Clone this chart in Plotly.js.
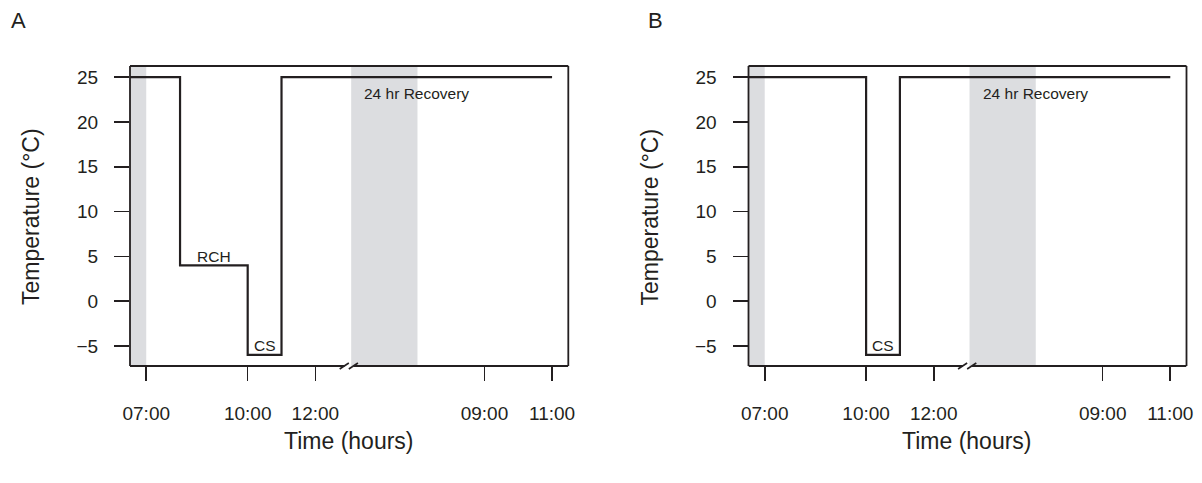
<!DOCTYPE html>
<html><head><meta charset="utf-8">
<script src="https://cdn.plot.ly/plotly-3.0.1.min.js"></script>
<style>html,body{margin:0;padding:0;background:#fff}</style>
</head><body><div id="chart" style="width:1202px;height:483px"></div>
<script>
// Time axis in "plot hours": day-1 clock hours as is; day-2 clock hours minus 16 (axis break after 12:00)
const tickHours = [7, 10, 12, 17, 19];
const tickLabels = ["07:00", "10:00", "12:00", "09:00", "11:00"];
const tempTicks = [-5, 0, 5, 10, 15, 20, 25];

// Panel A: RCH (4 °C) then cold shock (-6 °C), then 24 hr recovery at 25 °C
const timeA = [6.5, 8, 10, 11, 19];
const tempA = [25, 4, -6, 25, 25];
// Panel B: cold shock only
const timeB = [6.5, 10, 11, 19];
const tempB = [25, -6, 25, 25];

// grey (dark) periods
const darkStart = [6.52, 13.06];
const darkEnd = [7.0, 15.02];

// text labels
const labelTextA = ["RCH", "CS", "24 hr Recovery"];
const labelXA = [9, 10.5, 15];
const labelYA = [5, -5, 23.2];
const labelTextB = ["CS", "24 hr Recovery"];
const labelXB = [10.5, 15];
const labelYB = [-5, 23.2];

const W = 1202, H = 483;
const xRange = [6.52, 19.48];
const yRange = [-7.24, 26.24];
const domA = [130 / W, 568.3 / W];
const domB = [748.5 / W, 1186.5 / W];
const yDom = [(H - 366) / H, (H - 66) / H];
const ink = '#231f20';
const font = 'Liberation Sans, Arial, Helvetica, sans-serif';

function xAxis(dom, anchor) {
  return {
    domain: dom, range: xRange, anchor: anchor, showgrid: false, zeroline: false, showline: false,
    tickmode: 'array', tickvals: tickHours, ticktext: tickLabels,
    ticks: 'outside', ticklen: 14, tickwidth: 1.6, tickcolor: ink,
    ticklabelstandoff: 16, tickfont: {family: font, size: 19, color: ink}, fixedrange: true
  };
}
function yAxis(anchor) {
  return {
    domain: yDom, range: yRange, anchor: anchor, showgrid: false, zeroline: false, showline: false,
    tickmode: 'array', tickvals: tempTicks,
    ticks: 'outside', ticklen: 15, tickwidth: 1.6, tickcolor: ink,
    ticklabelstandoff: 12, tickfont: {family: font, size: 19, color: ink}, fixedrange: true
  };
}

const traces = [
  {x: timeA, y: tempA, xaxis: 'x', yaxis: 'y', mode: 'lines', line: {shape: 'hv', color: ink, width: 2.2}, hoverinfo: 'skip'},
  {x: timeB, y: tempB, xaxis: 'x2', yaxis: 'y2', mode: 'lines', line: {shape: 'hv', color: ink, width: 2.2}, hoverinfo: 'skip'}
];

const shapes = [];
[['x', domA], ['x2', domB]].forEach(([xr, dom]) => {
  for (let i = 0; i < darkStart.length; i++) {
    shapes.push({type: 'rect', layer: 'below', xref: xr, yref: 'paper', x0: darkStart[i], x1: darkEnd[i],
      y0: yDom[0], y1: yDom[1], fillcolor: '#dcdde0', line: {width: 0}});
  }
  const lw = 1.8;
  // left, top, right of the box
  shapes.push({type: 'line', xref: 'paper', yref: 'paper', x0: dom[0], x1: dom[0], y0: yDom[0], y1: yDom[1], line: {color: ink, width: lw}});
  shapes.push({type: 'line', xref: 'paper', yref: 'paper', x0: dom[1], x1: dom[1], y0: yDom[0], y1: yDom[1], line: {color: ink, width: lw}});
  shapes.push({type: 'line', xref: 'paper', yref: 'paper', x0: dom[0], x1: dom[1], y0: yDom[1], y1: yDom[1], line: {color: ink, width: lw}});
  // bottom with a break
  shapes.push({type: 'line', xref: xr, yref: 'paper', x0: xRange[0], x1: 12.86, y0: yDom[0], y1: yDom[0], line: {color: ink, width: lw}});
  shapes.push({type: 'line', xref: xr, yref: 'paper', x0: 13.13, x1: xRange[1], y0: yDom[0], y1: yDom[0], line: {color: ink, width: lw}});
  const ya = 1 - 369 / H, yb = 1 - 363 / H;
  shapes.push({type: 'line', xref: xr, yref: 'paper', x0: 12.72, x1: 12.99, y0: ya, y1: yb, line: {color: ink, width: 1.6}});
  shapes.push({type: 'line', xref: xr, yref: 'paper', x0: 12.99, x1: 13.26, y0: ya, y1: yb, line: {color: ink, width: 1.6}});
});

const annotations = [];
labelTextA.forEach((t, i) => annotations.push({xref: 'x', yref: 'y', x: labelXA[i], y: labelYA[i], text: t, showarrow: false,
  xanchor: 'center', yanchor: 'middle', font: {family: font, size: 15.5, color: ink}}));
labelTextB.forEach((t, i) => annotations.push({xref: 'x2', yref: 'y2', x: labelXB[i], y: labelYB[i], text: t, showarrow: false,
  xanchor: 'center', yanchor: 'middle', font: {family: font, size: 15.5, color: ink}}));

function paperText(text, px, py, size, angle) {
  return {xref: 'paper', yref: 'paper', x: px / W, y: 1 - py / H, text: text, showarrow: false,
    xanchor: 'center', yanchor: 'middle', textangle: angle || 0, font: {family: font, size: size, color: ink}};
}
annotations.push(paperText('A', 18.5, 20, 22));
annotations.push(paperText('B', 655, 20, 22));
annotations.push(paperText('Temperature (°C)', 31, 217, 23, -90));
annotations.push(paperText('Temperature (°C)', 31 + 618.5, 217, 23, -90));
annotations.push(paperText('Time (hours)', 349, 441, 23));
annotations.push(paperText('Time (hours)', 349 + 618.5, 441, 23));

const layout = {
  width: W, height: H, margin: {l: 0, r: 0, t: 0, b: 0},
  paper_bgcolor: '#fff', plot_bgcolor: 'rgba(0,0,0,0)', showlegend: false,
  xaxis: xAxis(domA, 'y'), yaxis: yAxis('x'),
  xaxis2: xAxis(domB, 'y2'), yaxis2: yAxis('x2'),
  shapes: shapes, annotations: annotations
};
Plotly.newPlot('chart', traces, layout, {displayModeBar: false, staticPlot: true});
</script></body></html>
